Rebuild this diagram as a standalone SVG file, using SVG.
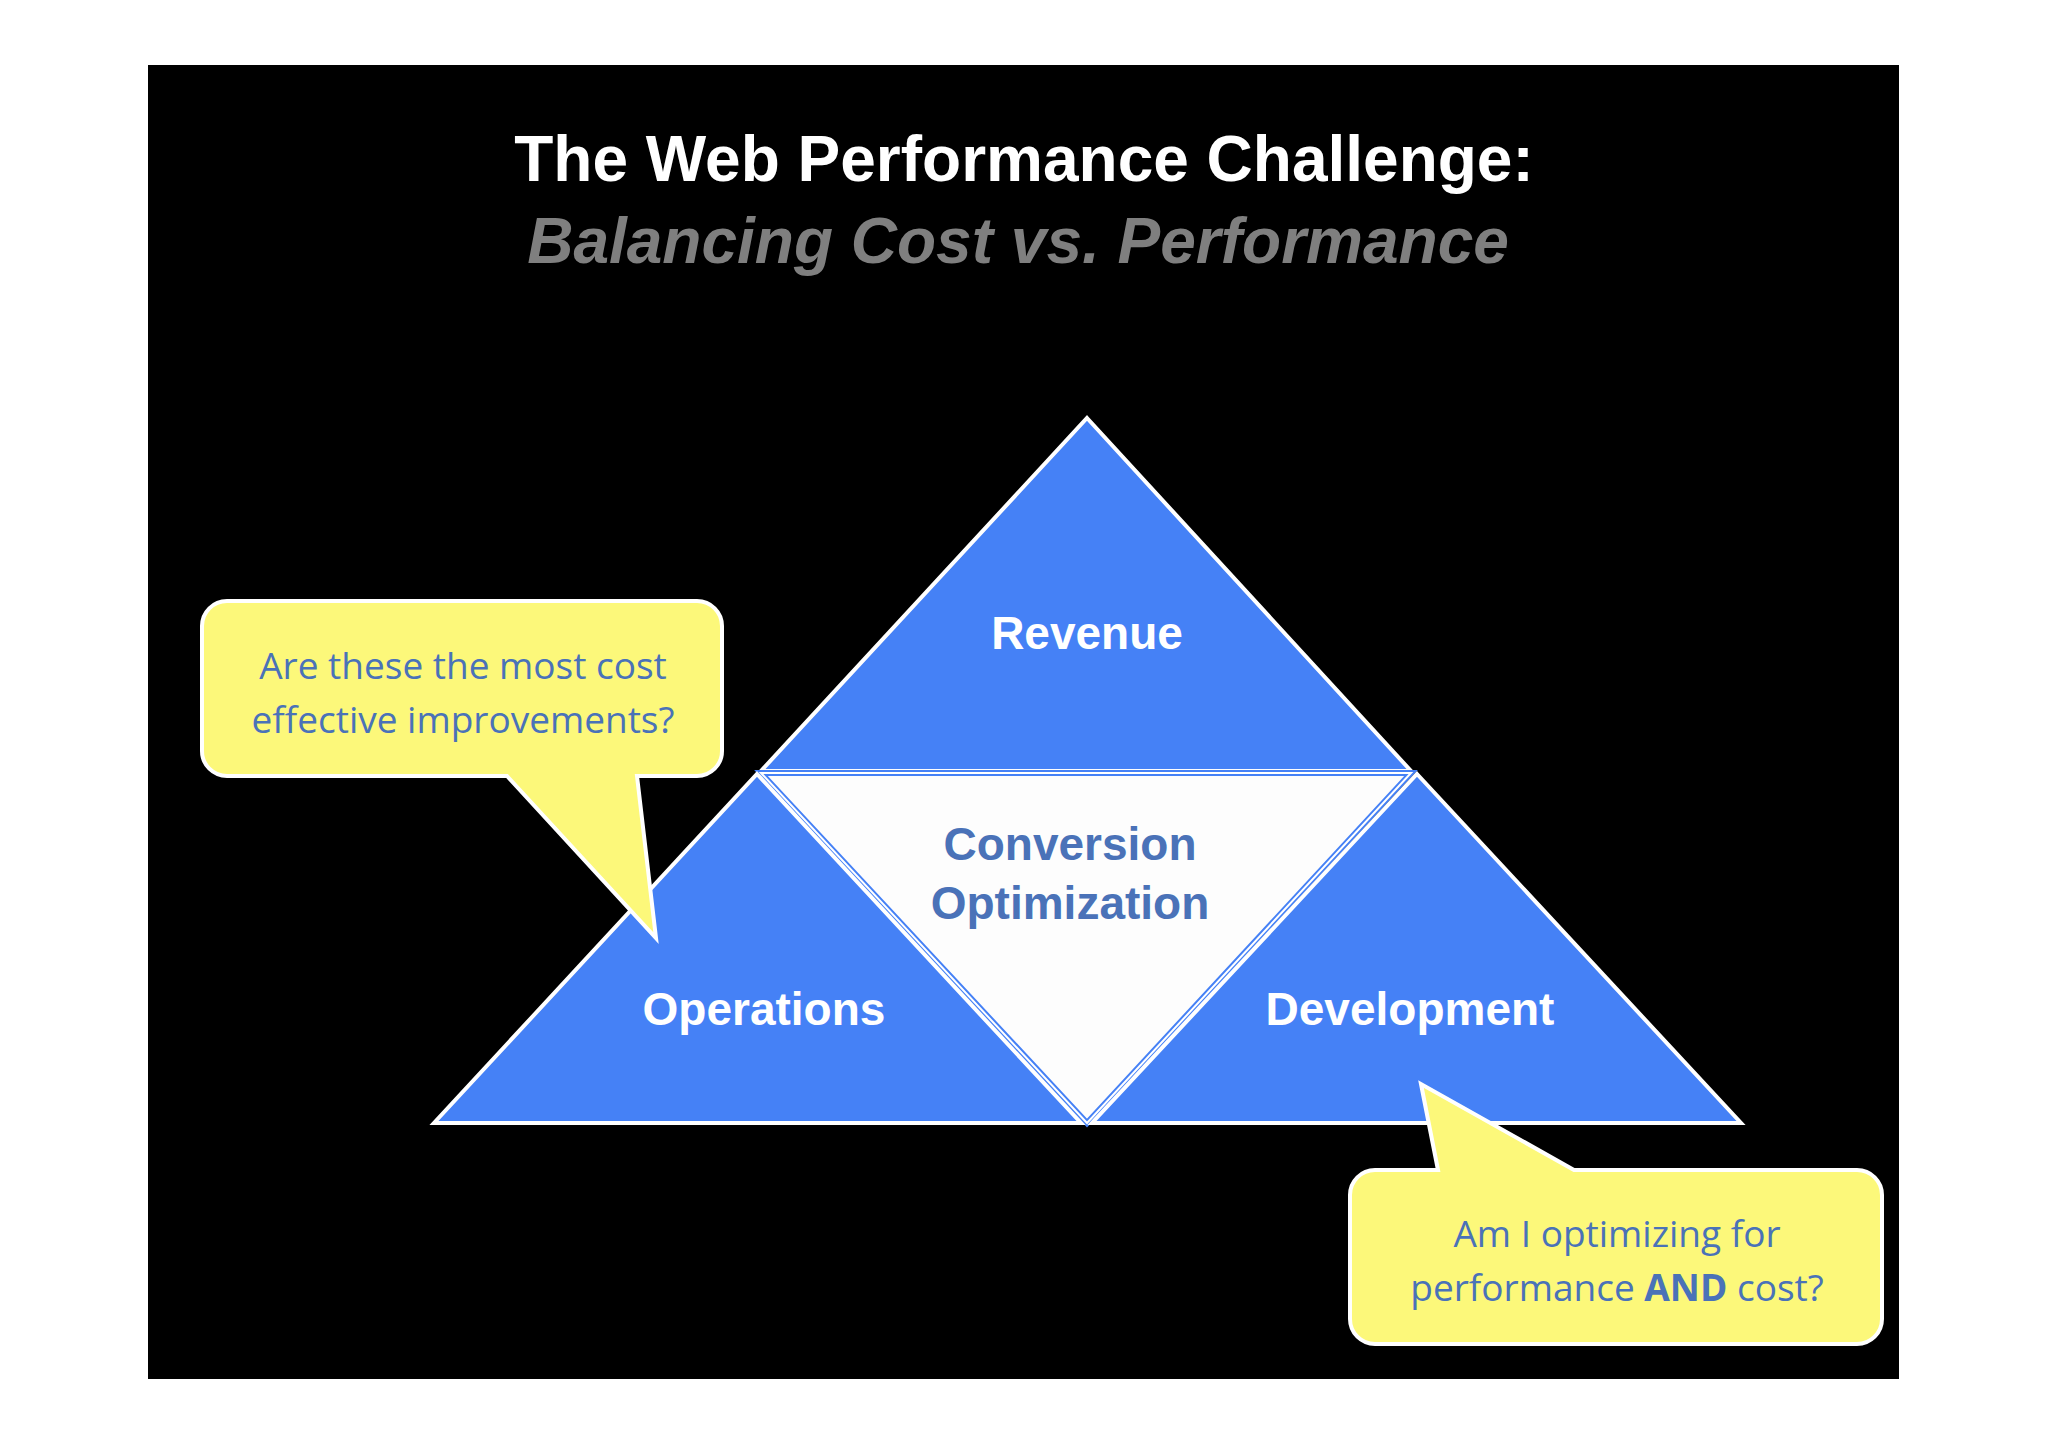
<svg xmlns="http://www.w3.org/2000/svg" width="2048" height="1447" viewBox="0 0 2048 1447">
<style>
.tri{fill:#4581f6;stroke:#fff;stroke-width:4;stroke-linejoin:miter}
.lbl{font-family:"Liberation Sans",Arial,sans-serif;font-weight:bold;font-size:46px;text-anchor:middle}
.call{fill:#fcf87a;stroke:#fff;stroke-width:4}
.ct{font-family:"Open Sans","Noto Sans",sans-serif;font-size:37px;fill:#4a72b8;text-anchor:middle}
</style>
<rect width="2048" height="1447" fill="#fff"/>
<rect x="148" y="65" width="1751" height="1314" fill="#000"/>
<g id="title">
<text x="1024" y="181" font-family="Liberation Sans,Arial,sans-serif" font-weight="bold" font-size="64" fill="#fff" text-anchor="middle">The Web Performance Challenge:</text>
<text x="1018" y="263" font-family="Liberation Sans,Arial,sans-serif" font-weight="bold" font-style="italic" font-size="64" fill="#7f7f7f" text-anchor="middle">Balancing Cost vs. Performance</text>
</g>
<g id="revenue"><polygon class="tri" points="1087,418 1411,771 761,771"/><text class="lbl" x="1087" y="649" fill="#fff">Revenue</text></g>
<g id="conversion"><polygon points="761,773 1411,773 1087,1123" fill="#fdfdfd" stroke="#4581f6" stroke-width="6"/><polygon points="761,773 1411,773 1087,1123" fill="none" stroke="#fff" stroke-width="2"/>
<text class="lbl" x="1070" y="860" fill="#4a72b8">Conversion</text><text class="lbl" x="1070" y="919" fill="#4a72b8">Optimization</text></g>
<g id="operations"><polygon class="tri" points="757,774 1081,1123 434,1123"/><text class="lbl" x="764" y="1025" fill="#fff">Operations</text></g>
<g id="development"><polygon class="tri" points="1417,774 1741,1123 1092,1123"/><text class="lbl" x="1410" y="1025" fill="#fff">Development</text></g>
<g id="callout1">
<path class="call" d="M227,601 H697 A25,25 0 0 1 722,626 V751 A25,25 0 0 1 697,776 H637 L656,938 L507,776 H227 A25,25 0 0 1 202,751 V626 A25,25 0 0 1 227,601 Z"/>
<text class="ct" x="463" y="679">Are these the most cost</text><text class="ct" x="463" y="733">effective improvements?</text></g>
<g id="callout2">
<path class="call" d="M1375,1170 H1438 L1421,1084 L1574,1170 H1857 A25,25 0 0 1 1882,1195 V1319 A25,25 0 0 1 1857,1344 H1375 A25,25 0 0 1 1350,1319 V1195 A25,25 0 0 1 1375,1170 Z"/>
<text class="ct" x="1617" y="1247">Am I optimizing for</text><text class="ct" x="1617" y="1301">performance <tspan font-weight="bold">AND</tspan> cost?</text></g>
</svg>
